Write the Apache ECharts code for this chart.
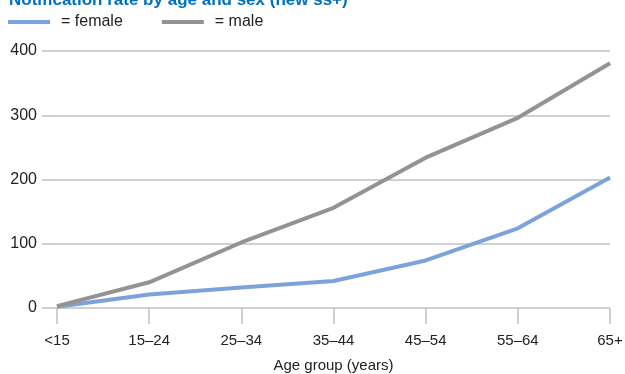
<!DOCTYPE html>
<html>
<head>
<meta charset="utf-8">
<script src="https://cdn.jsdelivr.net/npm/echarts@6/dist/echarts.min.js"></script>
<style>
  html, body { margin: 0; padding: 0; background: #fff; }
  #chart { width: 625px; height: 374px; }
</style>
</head>
<body>
<div id="chart"></div>
<script>
const ageGroups = ['<15', '15–24', '25–34', '35–44', '45–54', '55–64', '65+'];
const female = [2, 21, 32, 42, 74, 124, 203];
const male = [3, 40, 102, 156, 234, 296, 381];
const yTicks = [0, 100, 200, 300, 400];

const font = '"Liberation Sans Narrow", "Arial Narrow", "Liberation Sans", sans-serif';
const chart = echarts.init(document.getElementById('chart'));

chart.setOption({
    animation: false,
    title: {
        text: 'Notification rate by age and sex (new ss+)',
        left: 4,
        top: -13,
        textStyle: { color: '#0070c0', fontFamily: font, fontWeight: 'bold', fontSize: 17 }
    },
    legend: {
        left: 8,
        top: 14,
        padding: 0,
        icon: 'rect',
        itemWidth: 42,
        itemHeight: 4,
        itemGap: 39,
        formatter: '= {name}',
        textStyle: { fontFamily: font, fontSize: 16, color: '#222', padding: [0, 0, 0, 6] },
        data: ['female', 'male']
    },
    grid: { left: 57, right: 15, top: 51, bottom: 66, containLabel: false, outerBoundsMode: 'none' },
    xAxis: {
        type: 'category',
        data: ageGroups,
        boundaryGap: false,
        name: 'Age group (years)',
        nameLocation: 'middle',
        nameGap: 50,
        nameTextStyle: { fontFamily: font, fontSize: 15, color: '#222' },
        axisLine: { show: false },
        axisTick: { show: true, length: 16, lineStyle: { color: '#c0c0c0', width: 1.5 } },
        axisLabel: { margin: 25, fontFamily: font, fontSize: 15, color: '#222' }
    },
    yAxis: {
        type: 'value',
        min: yTicks[0],
        max: yTicks[yTicks.length - 1],
        interval: 100,
        axisLine: { show: false },
        axisTick: { show: true, length: 15, lineStyle: { color: '#c0c0c0', width: 1.5 } },
        axisLabel: { margin: 20, fontFamily: font, fontSize: 16, color: '#222' },
        splitLine: { lineStyle: { color: '#c0c0c0', width: 1.5 } }
    },
    series: [
        {
            name: 'female',
            type: 'line',
            data: female,
            symbol: 'none',
            itemStyle: { color: '#7ca3d9' },
            lineStyle: { color: '#7ca3d9', width: 4 }
        },
        {
            name: 'male',
            type: 'line',
            data: male,
            symbol: 'none',
            itemStyle: { color: '#939393' },
            lineStyle: { color: '#939393', width: 4 }
        }
    ]
});
</script>
</body>
</html>
